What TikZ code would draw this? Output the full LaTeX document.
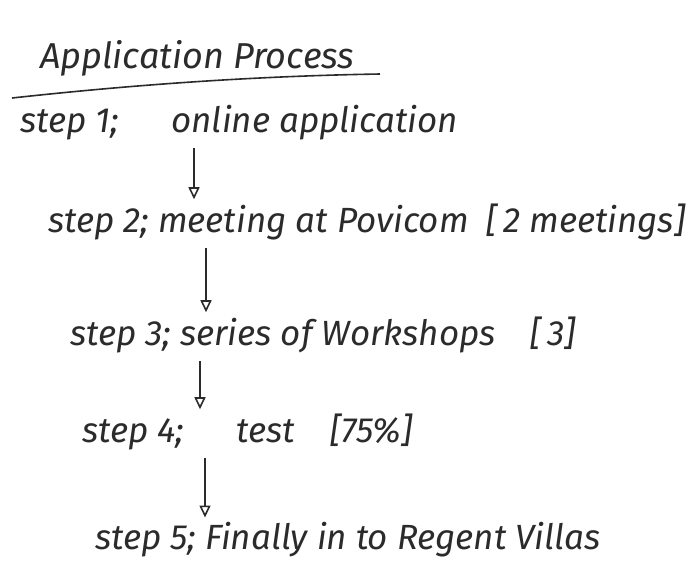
\documentclass[tikz,border=0pt]{standalone}
\usepackage{fontspec}
\setmainfont{Fira Sans}
\usepackage{tikz}
\usetikzlibrary{arrows.meta}
\definecolor{cInk}{HTML}{2B2B2B}

\begin{document}
\begin{tikzpicture}[
  x=1pt,y=1pt,
  ttl/.style={anchor=base west,inner sep=0pt,text=cInk,font=\fontsize{36}{40}\selectfont\itshape},
  stp/.style={anchor=base west,inner sep=0pt,text=cInk,font=\fontsize{35}{40}\selectfont\itshape},
  ar/.style={-{Triangle[open,length=12pt,width=11pt]},draw=cInk,line width=1.6pt,
             shorten <=8pt,shorten >=4pt}
]
\useasboundingbox[fill=white] (0,0) rectangle (691,-579);

% ---- titulo
\node[ttl] (ttl) at (40,-68) {Application Process};
\draw[cInk,line width=1.6pt] (12,-98) .. controls (140,-84) and (260,-76) .. (380,-74);

% ---- passos
\node[stp] (s1) at (20,-132)  {step 1;\quad\enspace online application};
\node[stp] (s2) at (48,-232)  {step 2; meeting at Povicom\enspace[\,2 meetings]};
\node[stp] (s3) at (70,-345)  {step 3; series of Workshops\quad[\,3]};
\node[stp] (s4) at (82,-442)  {step 4;\quad\enspace test\quad[75\%]};
\node[stp] (s5) at (95,-549)  {step 5; Finally in to Regent Villas};

% ---- setas
\draw[ar] (s1.south -| 194,0) -- (s2.north -| 194,0);
\draw[ar] (s2.south -| 206,0) -- (s3.north -| 206,0);
\draw[ar] (s3.south -| 200,0) -- (s4.north -| 200,0);
\draw[ar] (s4.south -| 205,0) -- (s5.north -| 205,0);
\end{tikzpicture}
\end{document}
